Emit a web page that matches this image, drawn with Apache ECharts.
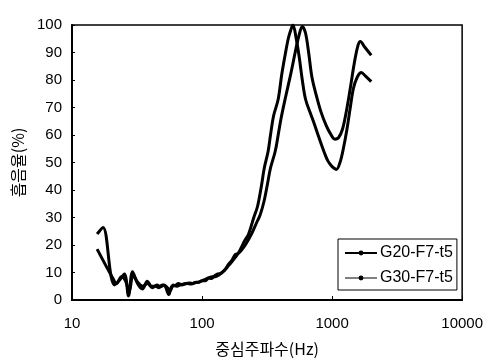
<!DOCTYPE html>
<html>
<head>
<meta charset="utf-8">
<script src="https://cdn.jsdelivr.net/npm/echarts@6/dist/echarts.min.js"></script>
<style>
html,body{margin:0;padding:0;background:#fff;}
#chart{width:486px;height:363px;}
</style>
</head>
<body>
<div id="chart"></div>
<script>
// Series names
var seriesNames = ['G20-F7-t5', 'G30-F7-t5'];

// G20-F7-t5 : frequency (Hz) and absorption (%)
var freqG20 = [15.6, 17.3, 20, 21.2, 23, 25.3, 27.2, 29.2, 31.9, 34.8, 37.9, 41, 44, 46.5, 49.3, 52, 55.5, 58.5, 62, 66, 70, 75, 80, 85, 90, 95, 100, 106, 112, 118, 125, 132, 140, 150, 160, 170, 180, 190, 200, 212, 228, 250, 267, 285, 301, 322, 336, 355, 385, 410, 435, 460, 480, 500, 530, 560, 590, 625, 680, 730, 780, 835, 890, 930, 980, 1030, 1080, 1150, 1220, 1300, 1380, 1460, 1560, 1680, 1800, 2000];
var valG20 = [24, 26.4, 8.5, 5.5, 7, 9.5, 1.5, 10.3, 6, 4, 6.8, 5, 5, 4.5, 5.5, 5, 2, 5, 5.2, 6, 5.5, 6, 6.2, 6, 6.5, 6.5, 7, 7.5, 8, 7.8, 8.8, 9.5, 9.7, 11, 12.5, 14, 15.5, 17, 19, 21.5, 24, 30, 34, 41, 48, 54, 60, 67, 73, 82, 89, 95, 98, 100, 95, 88, 80, 73, 68, 64, 60, 56, 52.5, 50.5, 49, 48, 47.5, 50, 55, 62, 70, 77, 81, 82.7, 81.5, 79.4];

// G30-F7-t5 : frequency (Hz) and absorption (%)
var freqG30 = [15.6, 20.6, 22, 24, 25.8, 27.5, 29.5, 32, 35, 38, 41.5, 45, 48, 51, 54, 57, 60, 64, 68, 72, 77, 82, 88, 94, 100, 106, 112, 119, 126, 134, 142, 150, 160, 170, 180, 190, 200, 215, 240, 262, 280, 300, 318, 336, 365, 385, 405, 435, 480, 520, 555, 590, 625, 660, 700, 760, 820, 900, 970, 1050, 1120, 1200, 1280, 1380, 1480, 1580, 1650, 1780, 2000];
var valG30 = [18.5, 7.9, 6, 8.5, 7, 3, 9, 6.5, 5, 6, 4.5, 5.5, 4.8, 5.5, 4.5, 3.5, 5.5, 5, 5.5, 5.8, 6, 5.8, 6.3, 6.5, 7, 7, 8, 8.5, 8.5, 9, 10, 11, 13, 14.5, 16.5, 17, 18, 20, 24, 28, 31, 36, 42, 48, 54, 60, 66, 73, 82, 90, 96, 99.5, 97, 90, 81, 74, 68.5, 63.5, 60.5, 58.5, 59, 62, 68, 77, 86, 92.5, 94, 92, 89];

// Axis ticks
var xTicks = [10, 100, 1000, 10000];
var yTicks = [0, 10, 20, 30, 40, 50, 60, 70, 80, 90, 100];

function pairs(f, v) {
  var out = [];
  for (var i = 0; i < f.length; i++) out.push([f[i], v[i]]);
  return out;
}

var font = 'Liberation Sans, Arial, sans-serif';
var kfont = '"Noto Sans CJK KR", sans-serif';

var chart = echarts.init(document.getElementById('chart'), null, {renderer: 'canvas'});
chart.setOption({
  animation: false,
  backgroundColor: '#fff',
  grid: {left: 72, right: 20, top: 25, bottom: 63, show: true, borderColor: '#000', borderWidth: 1.5, backgroundColor: 'transparent'},
  legend: {
    orient: 'vertical',
    left: 338, top: 239,
    borderColor: '#000', borderWidth: 1,
    padding: [5, 4, 3, 6],
    itemGap: 7,
    itemWidth: 32, itemHeight: 6,
    textStyle: {fontFamily: font, fontSize: 16, lineHeight: 18, color: '#000', padding: [0, 0, 0, -2]},
    data: [
      {name: seriesNames[0], lineStyle: {width: 2, color: '#000'}},
      {name: seriesNames[1], lineStyle: {width: 1, color: '#000'}}
    ]
  },
  xAxis: {
    type: 'log', logBase: 10, min: xTicks[0], max: xTicks[xTicks.length - 1],
    name: '중심주파수(Hz)', nameLocation: 'middle', nameGap: 41,
    nameTextStyle: {fontFamily: kfont, fontSize: 16, color: '#000'},
    axisLine: {lineStyle: {color: '#000', width: 2}},
    axisTick: {inside: true, length: 4, lineStyle: {color: '#000'}},
    axisLabel: {fontFamily: font, fontSize: 15, color: '#000', margin: 16,
      formatter: function (v) { return String(Math.round(v)); }},
    splitLine: {show: false}
  },
  yAxis: {
    type: 'value', min: yTicks[0], max: yTicks[yTicks.length - 1], interval: 10,
    name: '흡음율(%)', nameLocation: 'middle', nameGap: 46,
    nameTextStyle: {fontFamily: kfont, fontSize: 16, color: '#000'},
    axisLine: {show: true, lineStyle: {color: '#000', width: 2}},
    axisTick: {show: true, inside: true, length: 3, lineStyle: {color: '#000'}},
    axisLabel: {fontFamily: font, fontSize: 15, color: '#000', margin: 10},
    splitLine: {show: false}
  },
  series: [
    {
      name: seriesNames[0], type: 'line', data: pairs(freqG20, valG20),
      symbol: 'circle', symbolSize: 3, showSymbol: false, smooth: 0.35,
      lineStyle: {color: '#000', width: 3}, itemStyle: {color: '#000'}
    },
    {
      name: seriesNames[1], type: 'line', data: pairs(freqG30, valG30),
      symbol: 'circle', symbolSize: 2, showSymbol: false, smooth: 0.35,
      lineStyle: {color: '#000', width: 3}, itemStyle: {color: '#000'}
    }
  ]
});
</script>
</body>
</html>
